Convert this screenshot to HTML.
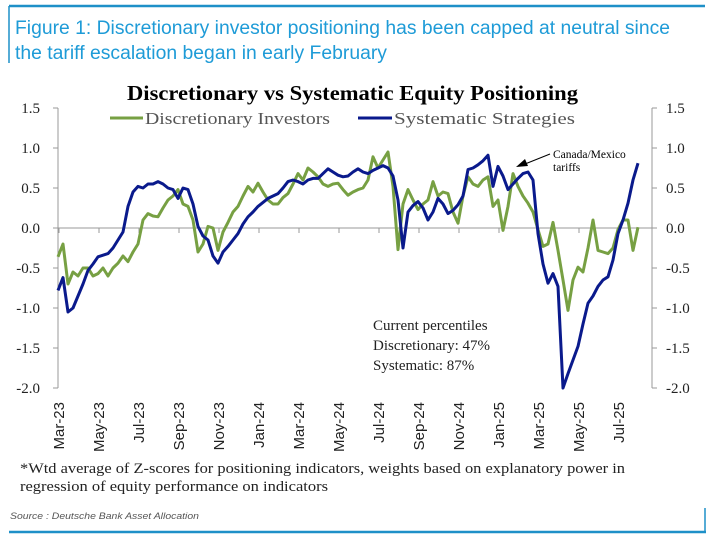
<!DOCTYPE html>
<html><head><meta charset="utf-8"><style>
html,body{margin:0;padding:0;background:#fff;}
svg{display:block;}
</style></head><body>
<svg id="chart" width="712" height="544" viewBox="0 0 712 544" xmlns="http://www.w3.org/2000/svg">
  <line x1="9" y1="6" x2="705" y2="6" stroke="#1e90c8" stroke-width="2.5"/>
  <line x1="9" y1="6" x2="9" y2="63" stroke="#1e90c8" stroke-width="1.5"/>
  <text x="15" y="34" font-family="Liberation Sans, sans-serif" font-size="19" fill="#1e9bd7" textLength="655" lengthAdjust="spacingAndGlyphs">Figure 1: Discretionary investor positioning has been capped at neutral since</text>
  <text x="15" y="59" font-family="Liberation Sans, sans-serif" font-size="19" fill="#1e9bd7" textLength="372" lengthAdjust="spacingAndGlyphs">the tariff escalation began in early February</text>
  <text x="127" y="100" font-family="Liberation Serif, serif" font-size="21" font-weight="bold" fill="#000" textLength="451" lengthAdjust="spacingAndGlyphs">Discretionary  vs Systematic Equity Positioning</text>
  <g>
    <line x1="110" y1="118" x2="143" y2="118" stroke="#77a043" stroke-width="3"/>
    <text x="145" y="124" font-family="Liberation Serif, serif" font-size="17" fill="#555" textLength="185" lengthAdjust="spacingAndGlyphs">Discretionary Investors</text>
    <line x1="358" y1="118" x2="392" y2="118" stroke="#0a1a8c" stroke-width="3"/>
    <text x="394" y="124" font-family="Liberation Serif, serif" font-size="17" fill="#555" textLength="181" lengthAdjust="spacingAndGlyphs">Systematic Strategies</text>
  </g>
  <g id="axes"></g>
  <g id="series"></g>
  <g>
    <text x="553" y="158" font-family="Liberation Serif, serif" font-size="11.5" fill="#000">Canada/Mexico</text>
    <text x="553" y="171" font-family="Liberation Serif, serif" font-size="11.5" fill="#000">tariffs</text>
    <line x1="550" y1="154" x2="525" y2="164" stroke="#000" stroke-width="1"/>
    <polygon points="516,167 525,159 528,166" fill="#000"/>
  </g>
  <g font-family="Liberation Serif, serif" font-size="15" fill="#222">
    <text x="373" y="330">Current percentiles</text>
    <text x="373" y="350">Discretionary: 47%</text>
    <text x="373" y="370">Systematic: 87%</text>
  </g>
  <text x="20" y="473" font-family="Liberation Serif, serif" font-size="15" fill="#222" textLength="605" lengthAdjust="spacingAndGlyphs">*Wtd average of Z-scores for positioning indicators, weights based on explanatory power in</text>
  <text x="20" y="491" font-family="Liberation Serif, serif" font-size="15" fill="#222" textLength="308" lengthAdjust="spacingAndGlyphs">regression of equity performance on indicators</text>
  <text x="10" y="519" font-family="Liberation Sans, sans-serif" font-size="9.5" font-style="italic" fill="#555" textLength="189" lengthAdjust="spacingAndGlyphs">Source : Deutsche Bank Asset Allocation</text>
  <line x1="9" y1="532" x2="706" y2="532" stroke="#1e90c8" stroke-width="2.5"/>
  <line x1="705" y1="508" x2="705" y2="532" stroke="#1e90c8" stroke-width="1.5"/>
</svg>
<script>
// Weekly-ish observations: one value per quarter-month starting Mar-2023
const discValues = [-0.36,-0.2,-0.7,-0.55,-0.6,-0.5,-0.5,-0.6,-0.57,-0.5,-0.6,-0.5,-0.44,-0.35,-0.42,-0.3,-0.2,0.1,0.18,0.15,0.14,0.25,0.35,0.4,0.48,0.3,0.27,0.1,-0.3,-0.2,0.02,0.0,-0.28,-0.05,0.07,0.2,0.27,0.4,0.52,0.45,0.56,0.45,0.35,0.3,0.3,0.38,0.43,0.55,0.68,0.6,0.75,0.7,0.64,0.55,0.52,0.55,0.56,0.48,0.41,0.45,0.48,0.5,0.6,0.89,0.75,0.85,0.95,0.52,-0.27,0.3,0.48,0.35,0.23,0.3,0.35,0.58,0.4,0.45,0.43,0.2,0.06,0.4,0.64,0.55,0.52,0.6,0.64,0.27,0.35,-0.03,0.27,0.68,0.52,0.4,0.31,0.2,-0.02,-0.23,-0.2,0.07,-0.28,-0.65,-1.03,-0.65,-0.49,-0.55,-0.25,0.1,-0.28,-0.3,-0.32,-0.25,-0.02,0.1,0.1,-0.28,0.01];
const systValues = [-0.78,-0.62,-1.05,-1.0,-0.85,-0.7,-0.53,-0.45,-0.36,-0.34,-0.32,-0.25,-0.15,-0.05,0.27,0.45,0.52,0.5,0.55,0.55,0.58,0.55,0.5,0.48,0.37,0.5,0.48,0.3,0.02,-0.1,-0.15,-0.35,-0.44,-0.3,-0.23,-0.15,-0.07,0.05,0.14,0.2,0.27,0.32,0.37,0.4,0.43,0.5,0.58,0.6,0.58,0.55,0.6,0.62,0.62,0.68,0.74,0.7,0.66,0.64,0.65,0.7,0.74,0.7,0.68,0.72,0.75,0.78,0.75,0.65,0.35,-0.25,0.2,0.28,0.33,0.25,0.1,0.2,0.37,0.3,0.18,0.22,0.29,0.4,0.73,0.75,0.79,0.84,0.91,0.52,0.77,0.65,0.48,0.55,0.62,0.68,0.7,0.6,-0.07,-0.45,-0.69,-0.57,-0.73,-2.0,-1.82,-1.65,-1.48,-1.2,-0.94,-0.85,-0.73,-0.65,-0.61,-0.4,-0.07,0.1,0.31,0.6,0.81];
const yTicks = [1.5,1.0,0.5,0.0,-0.5,-1.0,-1.5,-2.0];
const xTickLabels = ["Mar-23","May-23","Jul-23","Sep-23","Nov-23","Jan-24","Mar-24","May-24","Jul-24","Sep-24","Nov-24","Jan-25","Mar-25","May-25","Jul-25"];
const STEP_MONTHS = 0.25;

const X0=58, MONTH_PX=20, Y0=228, UNIT_PX=80;
const xScale = m => X0 + m*MONTH_PX;
const yScale = v => Y0 - v*UNIT_PX;
const NS="http://www.w3.org/2000/svg";
const axes=document.getElementById('axes');
const series=document.getElementById('series');
function mk(tag, attrs, parent){const e=document.createElementNS(NS,tag);for(const k in attrs)e.setAttribute(k,attrs[k]);parent.appendChild(e);return e;}

const la=mk('line',{x1:X0,y1:yScale(1.5),x2:X0,y2:yScale(-2),stroke:'#999','stroke-width':1},axes);


const ra=mk('line',{x1:652,y1:yScale(1.5),x2:652,y2:yScale(-2),stroke:'#999','stroke-width':1},axes);


const zl=mk('line',{x1:X0,y1:yScale(0),x2:652,y2:yScale(0),stroke:'#999','stroke-width':1},axes);



yTicks.forEach(v=>{
  const y=yScale(v);
  mk('line',{x1:X0-5,y1:y,x2:X0,y2:y,stroke:'#999'},axes);
  mk('line',{x1:652,y1:y,x2:657,y2:y,stroke:'#999'},axes);
  const t1=mk('text',{x:40,y:y+5,'text-anchor':'end','font-family':'Liberation Serif, serif','font-size':15,fill:'#222'},axes);
  t1.textContent=v.toFixed(1);
  
  
  const t2=mk('text',{x:666,y:y+5,'font-family':'Liberation Serif, serif','font-size':15,fill:'#222'},axes);
  t2.textContent=v.toFixed(1);
  
  
});
xTickLabels.forEach((lab,i)=>{
  const x=xScale(i*2)+1;
  mk('line',{x1:x,y1:yScale(0),x2:x,y2:yScale(0)+5,stroke:'#999'},axes);
  const t=mk('text',{x:0,y:0,'text-anchor':'end','font-family':'Liberation Sans, sans-serif','font-size':15,fill:'#222',transform:`translate(${x+5},402) rotate(-90)`},axes);
  t.textContent=lab;
  
  
});

function drawLine(vs, color, name){
  const d=vs.map((v,i)=>(i?'L':'M')+xScale(i*STEP_MONTHS).toFixed(1)+','+yScale(v).toFixed(1)).join(' ');
  const p=mk('path',{d:d,fill:'none',stroke:color,'stroke-width':3,'stroke-linejoin':'round'},series);
  
  
}
drawLine(discValues, '#77a043', 'discretionary-line');
drawLine(systValues, '#0a1a8c', 'systematic-line');
</script>
</body></html>
